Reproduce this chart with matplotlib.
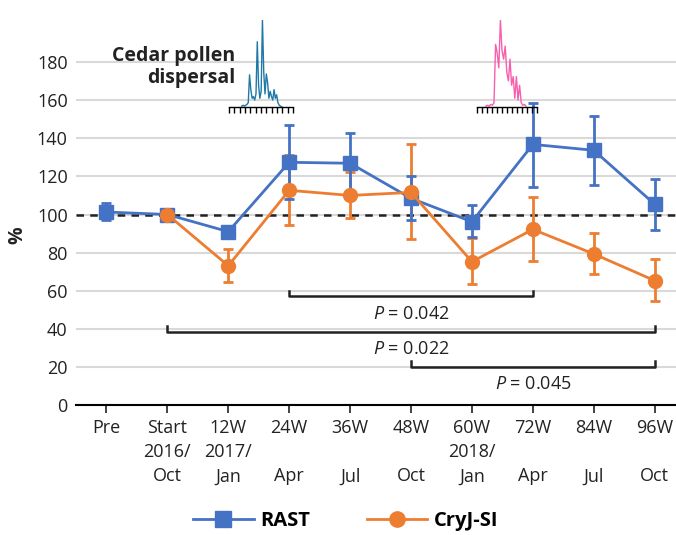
import numpy as np
import matplotlib
matplotlib.use("Agg")
import matplotlib.pyplot as plt
from matplotlib.lines import Line2D

plt.rcParams['font.family'] = ['Open Sans', 'DejaVu Sans']
plt.rcParams['mathtext.fontset'] = 'custom'
plt.rcParams['mathtext.it'] = 'Open Sans:italic'
plt.rcParams['mathtext.rm'] = 'Open Sans'

# x categories
labels = ["Pre", "Start\n2016/\nOct", "12W\n2017/\nJan", "24W\n\nApr", "36W\n\nJul",
          "48W\n\nOct", "60W\n2018/\nJan", "72W\n\nApr", "84W\n\nJul", "96W\n\nOct"]

# RAST (% of start)
rast = [101.3, 100, 91, 127.4, 126.9, 108.5, 96.2, 136.8, 133.7, 105.4]
rast_lo = [97, 100, 89, 108, 111, 97.3, 88.4, 114.6, 115.5, 91.9]
rast_hi = [106, 100, 93, 147, 142.8, 120.4, 105.2, 158.4, 151.9, 118.6]

# CryJ-SI (% of start), no Pre value
cryj = [np.nan, 100, 73.1, 112.7, 110, 111.6, 75.2, 92.2, 79.3, 65.3]
cryj_lo = [np.nan, 100, 64.7, 94.3, 98.3, 87.3, 63.7, 75.7, 68.8, 54.8]
cryj_hi = [np.nan, 100, 81.9, 131, 122.1, 137.2, 87.7, 109.2, 90.5, 76.6]

# significance brackets: (from, to, y of bar, label)
brackets = [(3, 7, 57, "$P$ = 0.042"),
            (1, 9, 38.5, "$P$ = 0.022"),
            (5, 9, 20, "$P$ = 0.045")]
bracket_text_x = [5, 5, 7]

# cedar pollen counts (relative), 2017 and 2018 seasons
pollen_2017 = [1, 2, 1, 2, 3, 5, 37, 20, 10, 12, 8, 15, 75, 25, 10, 18, 100, 40,
               15, 38, 28, 10, 18, 12, 8, 20, 10, 14, 5, 2, 1, 0]
pollen_2018 = [1, 2, 1, 3, 2, 5, 72, 62, 45, 100, 65, 55, 70, 40, 30, 55, 25, 35,
               10, 35, 8, 25, 5, 2, 3, 1]

blue = "#4472C4"
orange = "#ED7D31"

fig = plt.figure(figsize=(6.76, 5.35), dpi=100)
W, H = 676, 535
ax = fig.add_axes([76 / W, 130 / H, 600 / W, 381 / H])

x = np.arange(len(labels))
ax.set_xlim(-0.5, 9.35)
ax.set_ylim(0, 200)
ax.set_yticks(range(0, 181, 20))
ax.yaxis.grid(True, color="#d9d9d9", lw=1.5)
ax.set_axisbelow(True)
for s in ["left", "right", "top"]:
    ax.spines[s].set_visible(False)
ax.spines["bottom"].set_linewidth(1.5)
ax.tick_params(axis="y", length=0, pad=6, labelsize=13, colors="#222222")
ax.tick_params(axis="x", length=6, width=1.2, pad=4, labelsize=13, colors="#222222")
ax.set_xticks(x)
ax.set_xticklabels(labels, linespacing=1.45)

ax.axhline(100, color="#222222", lw=1.8, ls=(0, (3, 2.5)), zorder=1.5)

ry = np.array(rast)
cy = np.array(cryj)
ax.errorbar(x, cy, yerr=[cy - np.array(cryj_lo), np.array(cryj_hi) - cy], fmt="none",
            ecolor=orange, elinewidth=2, capsize=3.5, capthick=2, zorder=2)
ax.errorbar(x, ry, yerr=[ry - np.array(rast_lo), np.array(rast_hi) - ry], fmt="none",
            ecolor=blue, elinewidth=2, capsize=3.5, capthick=2, zorder=2.5)
ax.plot(x, ry, color=blue, lw=2, marker="s", ms=10, zorder=3)
ax.plot(x, cy, color=orange, lw=2, marker="o", ms=10, zorder=4)

for (a, b, yb, txt), tx in zip(brackets, bracket_text_x):
    ax.plot([a, a, b, b], [yb + 3, yb, yb, yb + 3], color="#222222", lw=1.8,
            clip_on=False, zorder=2)
    ax.text(tx, yb - 9, txt, ha="center", va="center", fontsize=13, color="#222222")

fig.text(17 / W, 1 - 235 / H, "%", rotation=90, ha="center", va="center",
         fontsize=14, fontweight="bold", color="#222222")
fig.text(235 / W, 1 - 67 / H, "Cedar pollen\ndispersal", ha="right", va="center",
         fontsize=14, fontweight="bold", color="#222222", linespacing=1.2)

# pollen insets
def pollen_inset(x0, x1, vals, d0, d1, color):
    ia = fig.add_axes([x0 / W, (H - 107) / H, (x1 - x0) / W, 87 / H])
    ia.patch.set_alpha(0)
    px = np.linspace(d0, d1, len(vals))
    ia.plot(px, vals, color=color, lw=1)
    ia.set_xlim(0, 12)
    ia.set_ylim(0, 100)
    ia.set_xticks(range(13))
    ia.set_xticklabels([])
    ia.set_yticks([])
    for s in ["left", "right", "top"]:
        ia.spines[s].set_visible(False)
    ia.spines["bottom"].set_linewidth(1)
    ia.tick_params(axis="x", length=4, width=1, direction="out")

pollen_inset(229, 293, pollen_2017, 2.4, 9.9, "#1f78a8")
pollen_inset(477, 537, pollen_2018, 1.8, 9.8, "#f75fae")

handles = [Line2D([], [], color=blue, lw=2, marker="s", ms=11),
           Line2D([], [], color=orange, lw=2, marker="o", ms=11)]
leg = fig.legend(handles, ["RAST", "CryJ-SI"], loc="center", bbox_to_anchor=(346 / W, 14 / H),
                 ncol=2, frameon=False, handlelength=3.0, handletextpad=0.35,
                 columnspacing=2.8, prop={"size": 14.5, "weight": "bold"})

fig.savefig("out.png", dpi=100)
